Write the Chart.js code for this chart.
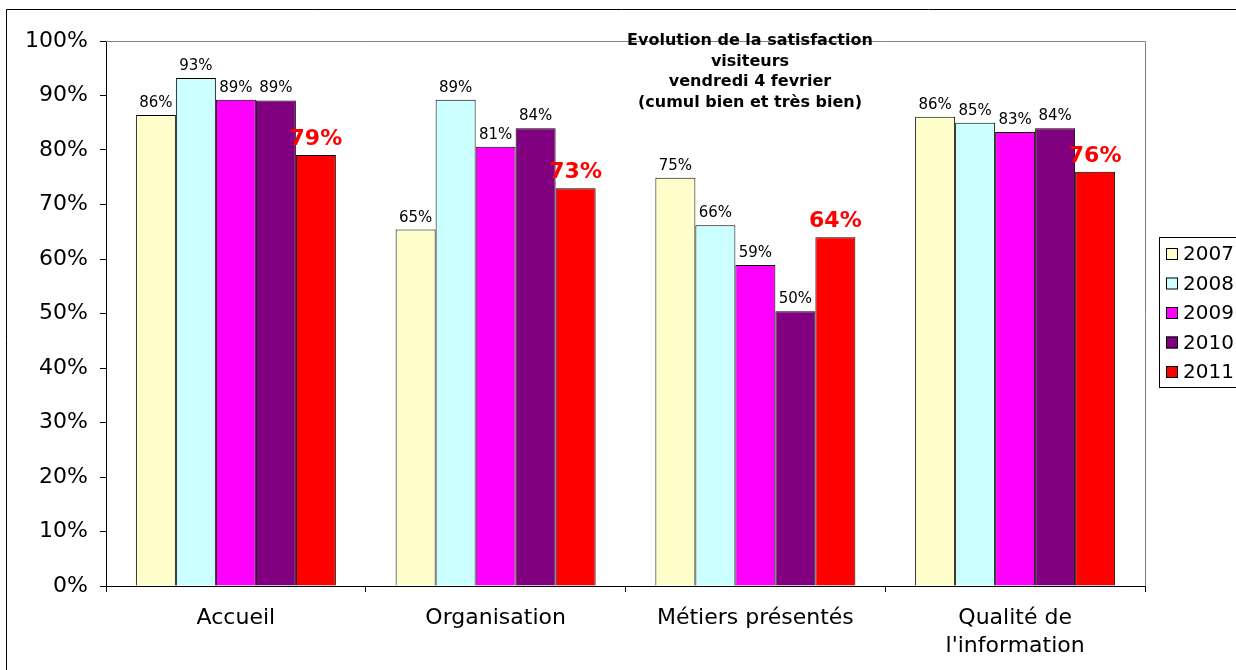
<!DOCTYPE html>
<html>
<head>
<meta charset="utf-8">
<script src="https://cdn.jsdelivr.net/npm/chart.js@4"></script>
<style>
  html, body { margin: 0; padding: 0; background: #fff; }
  #wrap { width: 1236px; height: 670px; position: relative; }
</style>
</head>
<body>
<div id="wrap"><canvas id="myChart" width="1236" height="670"></canvas></div>
<script>
// données
const categories = ['Accueil', 'Organisation', 'Métiers présentés', ['Qualité de', "l'information"]];
const years = ['2007', '2008', '2009', '2010', '2011'];
const v2007 = [86.4, 65.4, 74.9, 86.1];
const v2008 = [93.2, 89.2, 66.2, 85.0];
const v2009 = [89.2, 80.6, 58.9, 83.3];
const v2010 = [89.1, 84.0, 50.4, 84.0];
const v2011 = [79.1, 73.0, 64.0, 76.0];
const yTicks = [0, 10, 20, 30, 40, 50, 60, 70, 80, 90, 100];
const titleLines = ['Evolution de la satisfaction', 'visiteurs', 'vendredi 4 fevrier', '(cumul bien et très bien)'];

const colors = ['#FFFFCC', '#CCFFFF', '#FF00FF', '#800080', '#FF0000'];
const FONT = '"DejaVu Sans", Verdana, sans-serif';

// étiquettes, titre, cadre et légende
const extras = {
  id: 'extras',
  afterDatasetsDraw(chart) {
    const c = chart.ctx;
    const a = chart.chartArea;
    c.save();
    // cadre du graphique (gris en haut et à droite)
    c.strokeStyle = '#808080';
    c.lineWidth = 1;
    c.beginPath();
    c.moveTo(a.left, a.top + 0.5);
    c.lineTo(a.right + 0.5, a.top + 0.5);
    c.lineTo(a.right + 0.5, a.bottom);
    c.stroke();

    // valeurs au-dessus des barres
    chart.data.datasets.forEach((ds, i) => {
      const meta = chart.getDatasetMeta(i);
      meta.data.forEach((bar, j) => {
        const txt = Math.round(ds.data[j]) + '%';
        c.textAlign = 'center';
        c.textBaseline = 'alphabetic';
        if (i === 4) {
          c.font = 'bold 22px ' + FONT;
          c.fillStyle = '#FF0000';
          c.fillText(txt, bar.x, bar.y - 10);
        } else {
          c.font = '15px ' + FONT;
          c.fillStyle = '#000';
          c.fillText(txt, bar.x, bar.y - 8);
        }
      });
    });

    // titre
    c.font = 'bold 16px ' + FONT;
    c.fillStyle = '#000';
    c.textAlign = 'center';
    c.textBaseline = 'middle';
    titleLines.forEach((t, k) => c.fillText(t, 750, 41 + k * 20.5));

    // légende
    c.strokeStyle = '#000';
    c.strokeRect(1159.5, 237.5, 100, 150);
    c.font = '20px ' + FONT;
    c.textAlign = 'left';
    years.forEach((y, k) => {
      const cy = 254 + k * 29.5;
      c.fillStyle = colors[k];
      c.fillRect(1166, cy - 6, 12, 12);
      c.strokeRect(1166.5, cy - 5.5, 11, 11);
      c.fillStyle = '#000';
      c.fillText(y, 1183, cy + 1);
    });

    // cadre extérieur
    c.beginPath();
    c.moveTo(6.5, 670);
    c.lineTo(6.5, 9.5);
    c.lineTo(1236, 9.5);
    c.stroke();
    c.restore();
  }
};

const ctx = document.getElementById('myChart').getContext('2d');
const myChart = new Chart(ctx, {
  type: 'bar',
  data: {
    labels: categories,
    datasets: [v2007, v2008, v2009, v2010, v2011].map((d, i) => ({
      label: years[i],
      data: d,
      backgroundColor: colors[i],
      borderColor: '#000',
      borderWidth: 1,
      borderSkipped: 'bottom',
      categoryPercentage: 0.77,
      barPercentage: 1.0
    }))
  },
  options: {
    responsive: false,
    animation: false,
    layout: { padding: { left: 0, top: 41, right: 91, bottom: 0 } },
    plugins: { legend: { display: false }, tooltip: { enabled: false } },
    scales: {
      x: {
        afterFit: (s) => { s.height = 84; },
        grid: { offset: true, drawOnChartArea: false, tickLength: 6, color: '#000' },
        border: { color: '#000' },
        ticks: { color: '#000', font: { family: FONT, size: 22, lineHeight: 1.25 }, padding: 13, maxRotation: 0 }
      },
      y: {
        min: 0,
        max: 100,
        afterFit: (s) => { s.width = 106; },
        afterBuildTicks: (s) => { s.ticks = yTicks.map(v => ({ value: v })); },
        grid: { drawOnChartArea: false, tickLength: 6, color: '#000' },
        border: { color: '#000' },
        ticks: {
          color: '#000',
          font: { family: FONT, size: 22 },
          padding: 12,
          callback: (v) => v + '%'
        }
      }
    }
  },
  plugins: [extras]
});
</script>
</body>
</html>
